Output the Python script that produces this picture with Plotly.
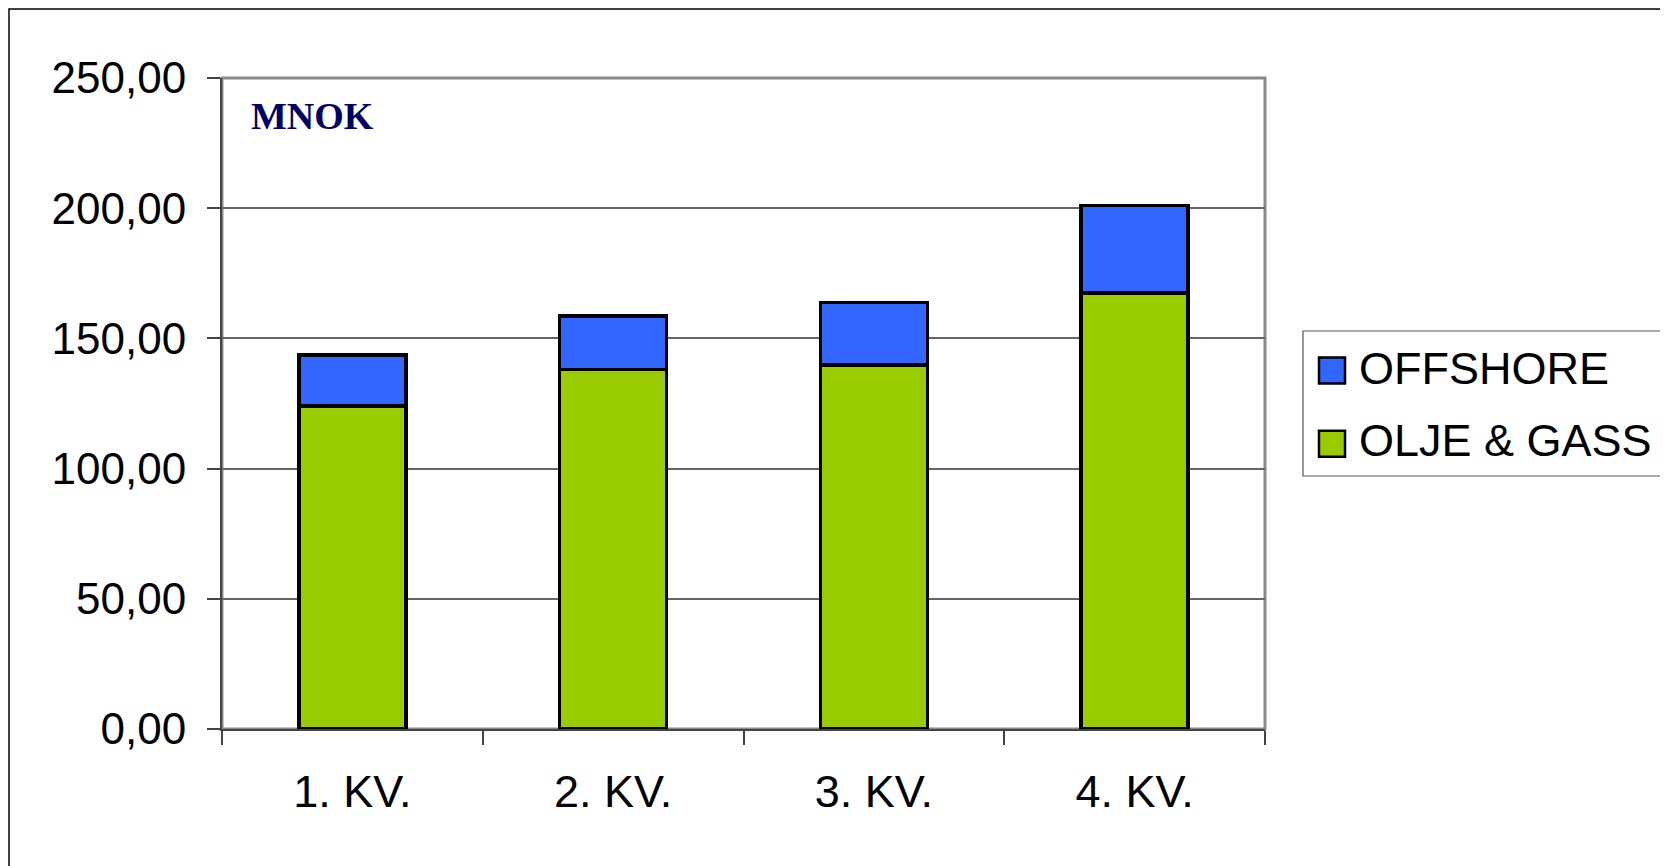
import plotly.graph_objects as go

categories = ["1. KV.", "2. KV.", "3. KV.", "4. KV."]
olje_gass = [124.0, 138.1, 139.7, 167.4]
offshore = [19.7, 20.6, 24.1, 33.6]
series_names = ["OFFSHORE", "OLJE & GASS"]
unit_label = "MNOK"

GREEN = "#99CC00"
BLUE = "#3366FF"

# page offset (default body margin of the html page)
O = 8
PAGE_W, PAGE_H = 1668, 866
W, H = PAGE_W - O, PAGE_H - O
# plot area in page pixels
PL, PR, PT, PB = 222, 1265, 78, 729
ML, MT = PL - O, PT - O
MR, MB = W - (PR - O), H - (PB - O)
PW, PH = PR - PL, PB - PT


def px_x(x):
    return (x - PL) / PW


def px_y(y):
    return (PB - y) / PH


fig = go.Figure()
fig.add_trace(go.Bar(x=categories, y=olje_gass, name=series_names[1],
                     marker=dict(color=GREEN, line=dict(color="black", width=3.5)),
                     showlegend=False))
fig.add_trace(go.Bar(x=categories, y=offshore, name=series_names[0],
                     marker=dict(color=BLUE, line=dict(color="black", width=3.5)),
                     showlegend=False))

shapes = []
# outer chart border (extends beyond the window on right/bottom)
shapes.append(dict(type="rect", xref="paper", yref="paper",
                   x0=px_x(9), x1=px_x(PAGE_W + 50), y0=px_y(PAGE_H + 50), y1=px_y(O + 1),
                   line=dict(color="black", width=1.5), layer="below"))
# plot frame (top/right gray)
shapes.append(dict(type="rect", xref="paper", yref="paper",
                   x0=0, x1=1, y0=0, y1=1,
                   line=dict(color="#8a8a8a", width=3), layer="below"))
# legend box
shapes.append(dict(type="rect", xref="paper", yref="paper",
                   x0=px_x(1303), x1=px_x(PAGE_W + 50), y0=px_y(476), y1=px_y(331),
                   line=dict(color="#555555", width=1.2), fillcolor="white"))
# legend swatches
for cy, col in [(370.5, BLUE), (443.7, GREEN)]:
    shapes.append(dict(type="rect", xref="paper", yref="paper",
                       x0=px_x(1319), x1=px_x(1345), y0=px_y(cy + 13), y1=px_y(cy - 13),
                       line=dict(color="black", width=2.5), fillcolor=col))

annotations = []
for cy, name in [(366, series_names[0]), (439, series_names[1])]:
    annotations.append(dict(xref="paper", yref="paper", x=px_x(1357), y=px_y(cy + 2),
                            xanchor="left", yanchor="middle", text=name, showarrow=False,
                            font=dict(family="Liberation Sans, Arial", size=45, color="black")))
annotations.append(dict(xref="paper", yref="paper", x=px_x(249), y=px_y(116),
                        xanchor="left", yanchor="middle", text="<b>%s</b>" % unit_label,
                        showarrow=False,
                        font=dict(family="Liberation Serif, Times New Roman", size=38,
                                  color="#000066")))

fig.update_layout(
    width=W, height=H,
    margin=dict(l=ML, r=MR, t=MT, b=MB, pad=0),
    barmode="stack", bargap=0.59,
    paper_bgcolor="white", plot_bgcolor="white",
    separators=", ",
    font=dict(family="Liberation Sans, Arial", size=44, color="black"),
    shapes=shapes, annotations=annotations,
    showlegend=False,
)
fig.update_xaxes(
    showline=True, linecolor="#444444", linewidth=2,
    ticks="outside", tickson="boundaries", ticklen=14, tickcolor="#444444", tickwidth=1.5,
    showgrid=False, ticklabelstandoff=22,
    tickfont=dict(size=45, color="black"),
)
fig.update_yaxes(
    range=[0, 250], dtick=50, tick0=0, tickformat=".2f",
    showline=True, linecolor="#444444", linewidth=2,
    ticks="outside", ticklen=13, tickcolor="#444444", tickwidth=1.5,
    showgrid=True, gridcolor="#666666", gridwidth=1.5,
    zeroline=False, ticklabelstandoff=12,
    tickfont=dict(size=44, color="black"),
)

fig.write_html("out.html")
